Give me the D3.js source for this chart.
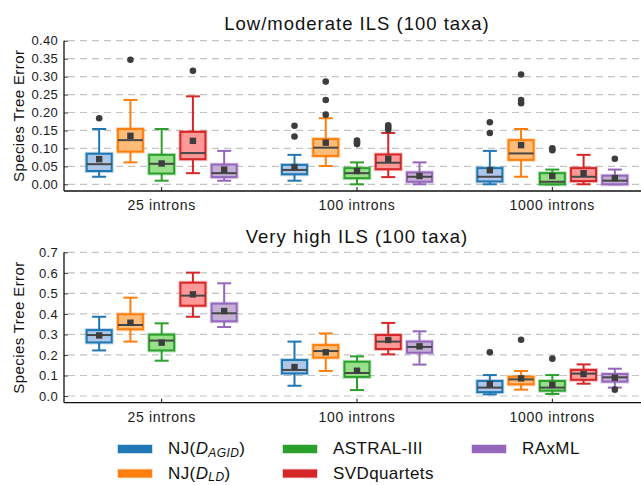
<!DOCTYPE html>
<html>
<head>
<meta charset="utf-8">
<script src="https://cdn.jsdelivr.net/npm/d3@7"></script>
<style>
  body { margin: 0; background: #fff; }
  svg { display: block; font-family: "Liberation Sans", Arial, Helvetica, sans-serif; }
</style>
</head>
<body>
<svg id="chart" width="641" height="485"></svg>
<script>
// ---------- data ----------
const groups = ["25 introns", "100 introns", "1000 introns"];
const methods = ["NJ(D_AGID)", "NJ(D_LD)", "ASTRAL-III", "SVDquartets", "RAxML"];
const mainColors = ["#1f77b4", "#ff7f0e", "#2ca02c", "#d62728", "#9467bd"];
const lightColors = ["#aec7e8", "#ffbb78", "#98df8a", "#ff9896", "#c5b0d5"];

const topTicks = [0.00, 0.05, 0.10, 0.15, 0.20, 0.25, 0.30, 0.35, 0.40];
const bottomTicks = [0.0, 0.1, 0.2, 0.3, 0.4, 0.5, 0.6, 0.7];

// Low/moderate ILS: per group, per method
const lowWhiskerTop = [[0.021, 0.061, 0.010, 0.031, 0.010], [0.010, 0.051, 0.000, 0.020, 0.000], [0.000, 0.021, 0.000, 0.000, 0.000]];
const q1Top        = [[0.037, 0.091, 0.030, 0.070, 0.020], [0.028, 0.079, 0.017, 0.042, 0.007], [0.008, 0.068, 0.000, 0.009, 0.000]];
const medianTop    = [[0.056, 0.123, 0.057, 0.087, 0.031], [0.040, 0.102, 0.031, 0.060, 0.021], [0.021, 0.086, 0.007, 0.021, 0.010]];
const q3Top        = [[0.085, 0.154, 0.082, 0.146, 0.055], [0.054, 0.126, 0.045, 0.083, 0.033], [0.045, 0.123, 0.031, 0.045, 0.024]];
const highWhiskerTop = [[0.154, 0.235, 0.154, 0.245, 0.093], [0.082, 0.184, 0.061, 0.143, 0.061], [0.093, 0.154, 0.041, 0.082, 0.041]];
const meanTop      = [[0.070, 0.135, 0.058, 0.121, 0.041], [0.048, 0.116, 0.037, 0.071, 0.023], [0.039, 0.109, 0.023, 0.031, 0.017]];
const outliersTop  = [
  [[0.184], [0.347], [], [0.316], []],
  [[0.163, 0.133], [0.286, 0.235, 0.194], [0.112, 0.117, 0.122], [0.152, 0.158, 0.164], []],
  [[0.173, 0.143], [0.306, 0.235, 0.226], [0.095, 0.100], [], [0.071]]
];

// Very high ILS
const lowWhiskerBot = [[0.222, 0.265, 0.172, 0.386, 0.336], [0.050, 0.122, 0.029, 0.203, 0.153], [0.008, 0.031, 0.010, 0.060, 0.041]];
const q1Bot        = [[0.261, 0.325, 0.222, 0.440, 0.364], [0.110, 0.187, 0.093, 0.229, 0.211], [0.019, 0.057, 0.026, 0.079, 0.070]];
const medianBot    = [[0.297, 0.346, 0.270, 0.489, 0.403], [0.127, 0.219, 0.112, 0.265, 0.239], [0.041, 0.081, 0.041, 0.109, 0.091]];
const q3Bot        = [[0.321, 0.398, 0.299, 0.552, 0.450], [0.175, 0.248, 0.167, 0.297, 0.265], [0.073, 0.094, 0.073, 0.127, 0.107]];
const highWhiskerBot = [[0.386, 0.479, 0.354, 0.601, 0.549], [0.265, 0.305, 0.193, 0.356, 0.315], [0.102, 0.122, 0.102, 0.154, 0.133]];
const meanBot      = [[0.295, 0.357, 0.260, 0.495, 0.414], [0.141, 0.213, 0.123, 0.273, 0.242], [0.058, 0.086, 0.054, 0.107, 0.089]];
const outliersBot  = [
  [[], [], [], [], []],
  [[], [], [], [], []],
  [[0.213], [0.274], [0.182], [], [0.031]]
];

// ---------- drawing ----------
const svg = d3.select("#chart");
const plotLeft = 64, plotRight = 650;

function panel(cfg) {
  const g = svg.append("g");
  const x = d3.scaleBand().domain(groups).range([plotLeft, plotRight]).padding(0);
  const inner = d3.scaleBand().domain(d3.range(methods.length)).range([-81.25, 81.25]).padding(0.2);
  const y = d3.scaleLinear().domain(cfg.domain).range([cfg.bottom, cfg.top]);

  // gridlines
  g.append("g").selectAll("line").data(cfg.ticks).join("line")
    .attr("x1", plotLeft + 4).attr("x2", plotRight)
    .attr("y1", d => y(d)).attr("y2", d => y(d))
    .attr("stroke", "#c4c4c4").attr("stroke-width", 1.2)
    .attr("stroke-dasharray", "7,5");

  // y axis
  const yAxis = d3.axisLeft(y).tickValues(cfg.ticks).tickFormat(d3.format(cfg.fmt)).tickSizeInner(-4).tickSizeOuter(0).tickPadding(6);
  const ya = g.append("g").attr("transform", `translate(${plotLeft},0)`).call(yAxis);
  ya.select(".domain").remove();
  ya.selectAll(".tick line").attr("stroke", "#333");
  ya.selectAll(".tick text").attr("font-size", 13).attr("fill", "#1a1a1a").attr("letter-spacing", 0.3)
    .attr("font-family", "Liberation Sans, Arial, sans-serif");
  g.append("line").attr("x1", plotLeft).attr("x2", plotLeft).attr("y1", y(cfg.domain[1])).attr("y2", cfg.bottom)
    .attr("stroke", "#111").attr("stroke-width", 1.3);

  // x axis
  const xAxis = d3.axisBottom(x).tickSizeInner(-4).tickSizeOuter(0).tickPadding(9);
  const xa = g.append("g").attr("transform", `translate(0,${cfg.bottom})`).call(xAxis);
  xa.select(".domain").remove();
  xa.selectAll(".tick line").attr("stroke", "#111");
  xa.selectAll(".tick text").attr("font-size", 14).attr("fill", "#1a1a1a").attr("letter-spacing", 0.7)
    .attr("font-family", "Liberation Sans, Arial, sans-serif");
  g.append("line").attr("x1", plotLeft).attr("x2", plotRight).attr("y1", cfg.bottom).attr("y2", cfg.bottom)
    .attr("stroke", "#111").attr("stroke-width", 1.3);

  // title
  g.append("text").attr("x", (plotLeft + plotRight) / 2).attr("y", cfg.titleY)
    .attr("text-anchor", "middle").attr("font-size", 18.5).attr("fill", "#111").attr("letter-spacing", 1.0)
    .text(cfg.title);

  // y label
  g.append("text").attr("transform", `translate(24,${(cfg.top + cfg.bottom) / 2}) rotate(-90)`)
    .attr("text-anchor", "middle").attr("font-size", 15).attr("fill", "#111").attr("letter-spacing", 0.4)
    .text("Species Tree Error");

  // boxes
  const items = [];
  groups.forEach((grp, gi) => methods.forEach((m, mi) => items.push({
    gi, mi, cx: x(grp) + x.bandwidth() / 2 + inner(mi) + inner.bandwidth() / 2,
    lo: cfg.lo[gi][mi], q1: cfg.q1[gi][mi], med: cfg.med[gi][mi], q3: cfg.q3[gi][mi],
    hi: cfg.hi[gi][mi], mean: cfg.mean[gi][mi], out: cfg.out[gi][mi]
  })));
  const bw = inner.bandwidth();
  const capW = bw * 0.56;

  const bg = g.append("g").selectAll("g").data(items).join("g");
  // whiskers
  bg.append("line").attr("x1", d => d.cx).attr("x2", d => d.cx).attr("y1", d => y(d.hi)).attr("y2", d => y(d.q3))
    .attr("stroke", d => mainColors[d.mi]).attr("stroke-width", 2);
  bg.append("line").attr("x1", d => d.cx).attr("x2", d => d.cx).attr("y1", d => y(d.lo)).attr("y2", d => y(d.q1))
    .attr("stroke", d => mainColors[d.mi]).attr("stroke-width", 2);
  bg.append("line").attr("x1", d => d.cx - capW / 2).attr("x2", d => d.cx + capW / 2).attr("y1", d => y(d.hi)).attr("y2", d => y(d.hi))
    .attr("stroke", d => mainColors[d.mi]).attr("stroke-width", 2);
  bg.append("line").attr("x1", d => d.cx - capW / 2).attr("x2", d => d.cx + capW / 2).attr("y1", d => y(d.lo)).attr("y2", d => y(d.lo))
    .attr("stroke", d => mainColors[d.mi]).attr("stroke-width", 2);
  // halo
  bg.append("rect").attr("x", d => d.cx - bw / 2).attr("width", bw)
    .attr("y", d => y(d.q3)).attr("height", d => Math.max(0.5, y(d.q1) - y(d.q3)))
    .attr("fill", "none").attr("stroke", d => mainColors[d.mi]).attr("stroke-opacity", 0.3).attr("stroke-width", 4);
  // box
  bg.append("rect").attr("x", d => d.cx - bw / 2).attr("width", bw)
    .attr("y", d => y(d.q3)).attr("height", d => Math.max(0.5, y(d.q1) - y(d.q3)))
    .attr("fill", d => lightColors[d.mi]).attr("stroke", d => mainColors[d.mi]).attr("stroke-width", 2);
  // median
  bg.append("line").attr("x1", d => d.cx - bw / 2).attr("x2", d => d.cx + bw / 2).attr("y1", d => y(d.med)).attr("y2", d => y(d.med))
    .attr("stroke", "#474747").attr("stroke-width", 2);
  // mean
  bg.append("rect").attr("x", d => d.cx - 3.2).attr("y", d => y(d.mean) - 3.2).attr("width", 6.4).attr("height", 6.4)
    .attr("fill", "#3d3d3d");
  // outliers
  bg.selectAll("circle").data(d => d.out.map(v => ({ v, cx: d.cx }))).join("circle")
    .attr("cx", d => d.cx).attr("cy", d => y(d.v)).attr("r", 3.3).attr("fill", "#3d3d3d");
}

panel({
  title: "Low/moderate ILS (100 taxa)", titleY: 30,
  domain: [-0.0187, 0.40], top: 40.7, bottom: 191, ticks: topTicks, fmt: ".2f",
  lo: lowWhiskerTop, q1: q1Top, med: medianTop, q3: q3Top, hi: highWhiskerTop, mean: meanTop, out: outliersTop
});
panel({
  title: "Very high ILS (100 taxa)", titleY: 242.5,
  domain: [-0.0326, 0.70], top: 252.3, bottom: 402.7, ticks: bottomTicks, fmt: ".1f",
  lo: lowWhiskerBot, q1: q1Bot, med: medianBot, q3: q3Bot, hi: highWhiskerBot, mean: meanBot, out: outliersBot
});

// ---------- legend ----------
const legendPos = [
  { sx: 118, ty: 454 }, { sx: 118, ty: 478.5 },
  { sx: 283, ty: 454 }, { sx: 283, ty: 478.5 },
  { sx: 472, ty: 454 }
];
const lg = svg.append("g");
methods.forEach((m, i) => {
  const p = legendPos[i];
  lg.append("rect").attr("x", p.sx).attr("y", p.ty - 9).attr("width", 34).attr("height", 8)
    .attr("fill", mainColors[i]).attr("stroke", mainColors[i]).attr("stroke-opacity", 0.3).attr("stroke-width", 1.5);
  const t = lg.append("text").attr("x", p.sx + 50).attr("y", p.ty).attr("font-size", 17).attr("fill", "#111").attr("letter-spacing", 0.4);
  const mm = m.match(/^NJ\(D_(\w+)\)$/);
  if (mm) {
    t.append("tspan").text("NJ(");
    t.append("tspan").attr("font-style", "italic").text("D");
    t.append("tspan").attr("font-style", "italic").attr("font-size", 12).attr("dy", 2.5).text(mm[1]);
    t.append("tspan").attr("dy", -2.5).text(")");
  } else {
    t.text(m);
  }
});
</script>
</body>
</html>
